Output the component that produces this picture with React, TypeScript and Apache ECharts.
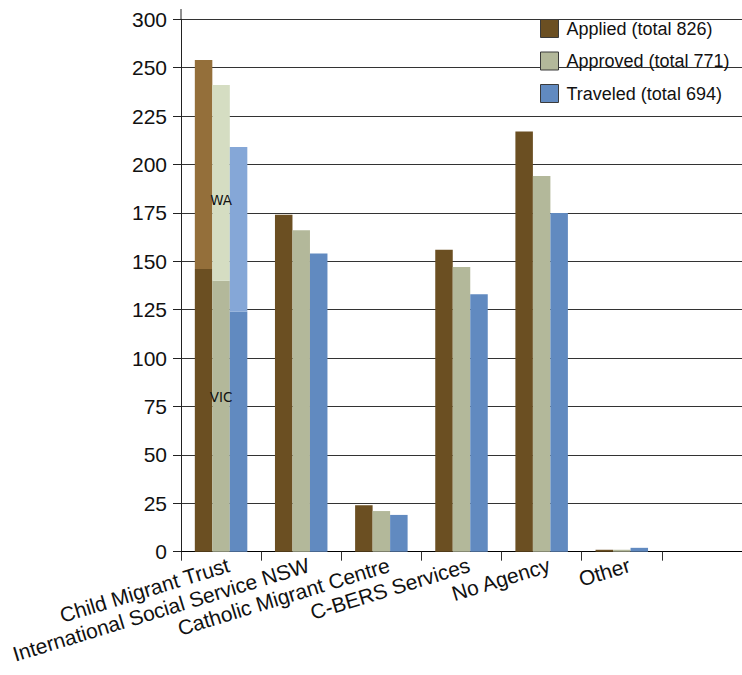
import React, { useEffect, useRef } from "react";
import * as echarts from "echarts";

// Agencies on the category axis; the last slot is left empty.
const categories = [
  "Child Migrant Trust",
  "International Social Service NSW",
  "Catholic Migrant Centre",
  "C-BERS Services",
  "No Agency",
  "Other",
  "",
];

// Base values (for Child Migrant Trust this is the VIC part).
const applied = [146, 174, 24, 156, 217, 1, null];
const approved = [140, 166, 21, 147, 194, 1, null];
const traveled = [124, 154, 19, 133, 175, 2, null];

// WA part stacked on top of the Child Migrant Trust bars.
const appliedWA = [108, null, null, null, null, null, null];
const approvedWA = [101, null, null, null, null, null, null];
const traveledWA = [85, null, null, null, null, null, null];

const seriesNames = ["Applied (total 826)", "Approved (total 771)", "Traveled (total 694)"];
const stateLabels = ["VIC", "WA"];

// Tick labels of the value axis, one per 25 step.
const tickLabels = ["0", "25", "50", "75", "100", "125", "150", "175", "200", "225", "250", "300"];

const baseColors = ["#6b4f22", "#b3b89a", "#618ac0"];
const waColors = ["#946f3a", "#d5ddc2", "#85a7d7"];

const FONT = "'Liberation Sans', Arial, Helvetica, sans-serif";

export default function App() {
  const ref = useRef<HTMLDivElement>(null);

  useEffect(() => {
    if (!ref.current) return;
    const chart = echarts.init(ref.current, undefined, { renderer: "svg" });

    const stateLabel = (text: string, y: string) => ({
      show: true,
      formatter: text,
      position: ["50%", y],
      align: "center",
      verticalAlign: "middle",
      fontFamily: "'DejaVu Sans', sans-serif",
      fontSize: 13.5,
      color: "#111",
    });

    const withLabel = (arr: (number | null)[], text: string, y: string) =>
      arr.map((v, i) => (i === 0 && v != null ? { value: v, label: stateLabel(text, y) } : v));

    const bases = [applied, approved, traveled];
    const tops = [appliedWA, approvedWA, traveledWA];

    const series: any[] = [];
    bases.forEach((arr, k) => {
      series.push({
        name: seriesNames[k],
        type: "bar",
        stack: "s" + k,
        barWidth: 17.5,
        barGap: "0%",
        data: k === 1 ? withLabel(arr, stateLabels[0], "43%") : arr,
        itemStyle: { color: baseColors[k] },
      });
      series.push({
        name: seriesNames[k] + " WA",
        type: "bar",
        stack: "s" + k,
        barWidth: 17.5,
        barGap: "0%",
        data: k === 1 ? withLabel(tops[k], stateLabels[1], "59%") : tops[k],
        itemStyle: { color: waColors[k] },
      });
    });

    chart.setOption({
      animation: false,
      backgroundColor: "#ffffff",
      grid: { left: 181, top: 19.3, width: 567, height: 532.4 },
      legend: {
        data: seriesNames,
        orient: "vertical",
        left: 535,
        top: 14,
        icon: "rect",
        itemWidth: 18,
        itemHeight: 18,
        itemGap: 13.5,
        itemStyle: { borderColor: "#3a3a3a", borderWidth: 1 },
        textStyle: { fontFamily: FONT, fontSize: 18, color: "#111", padding: [0, 0, 0, 3] },
      },
      xAxis: {
        type: "category",
        data: categories,
        boundaryGap: true,
        axisLine: { lineStyle: { color: "#000", width: 1 } },
        axisTick: { show: true, alignWithLabel: false, length: 9, lineStyle: { color: "#333" } },
        axisLabel: {
          interval: 0,
          rotate: 17,
          margin: 15,
          padding: [0, -8, 0, 0],
          fontFamily: FONT,
          fontSize: 21,
          color: "#111",
        },
        splitLine: { show: false },
      },
      yAxis: {
        type: "value",
        min: 0,
        max: 275,
        interval: 25,
        axisLine: { show: true, lineStyle: { color: "#222", width: 1 } },
        axisTick: { show: true, inside: false, length: 8, lineStyle: { color: "#222" } },
        axisLabel: {
          margin: 14,
          fontFamily: FONT,
          fontSize: 21,
          color: "#111",
          formatter: (v: number) => tickLabels[Math.round(v / 25)] ?? "",
        },
        splitLine: { show: true, lineStyle: { color: "#333", width: 1 } },
      },
      graphic: [
        {
          type: "line",
          shape: { x1: 181, y1: 9, x2: 181, y2: 19.3 },
          style: { stroke: "#222", lineWidth: 1 },
          silent: true,
        },
      ],
      series,
    });

    return () => chart.dispose();
  }, []);

  return (
    <div
      ref={ref}
      style={{ position: "fixed", left: 0, top: 0, width: 742, height: 675, background: "#fff" }}
    />
  );
}
